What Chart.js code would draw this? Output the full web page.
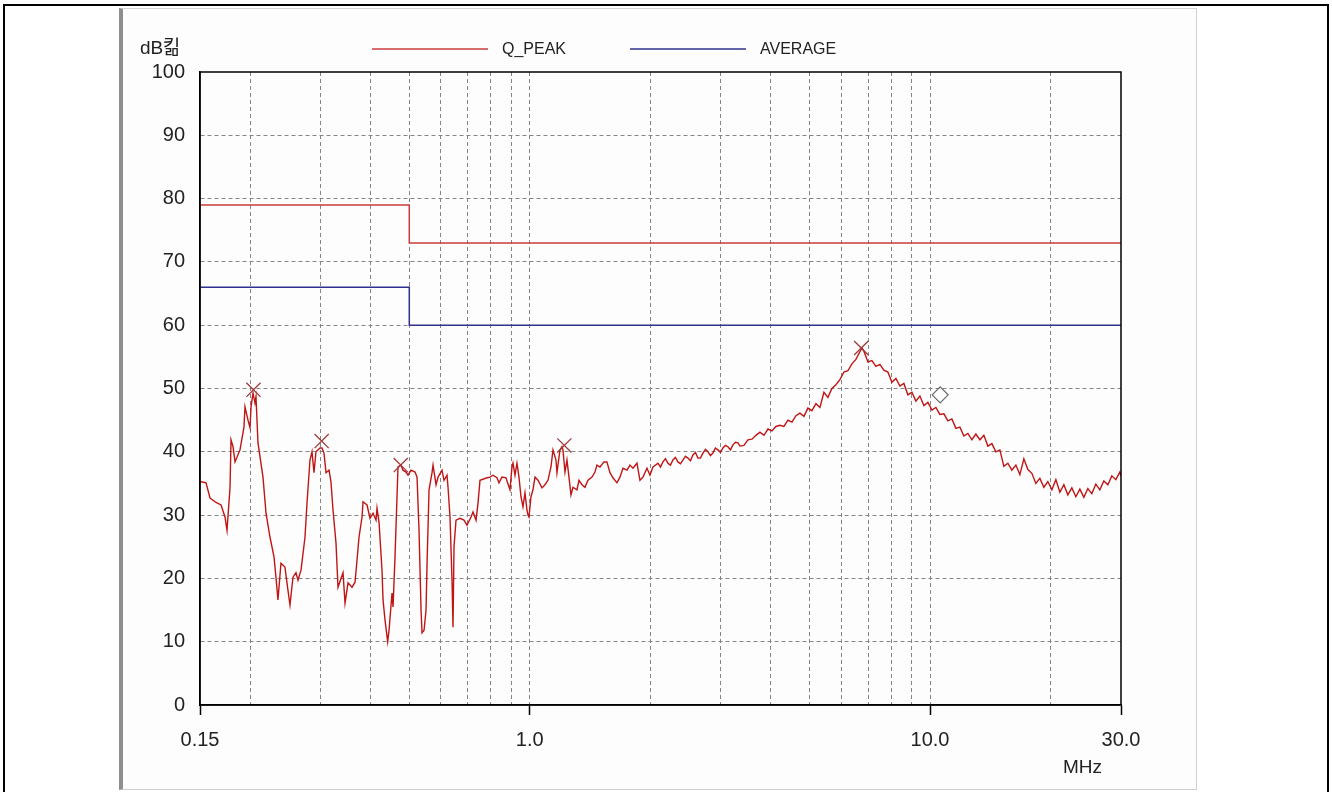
<!DOCTYPE html>
<html>
<head>
<meta charset="utf-8">
<script src="https://cdn.jsdelivr.net/npm/chart.js@4.4.1/dist/chart.umd.min.js"></script>
<style>
  html, body { margin: 0; padding: 0; background: #fff; }
  #page { position: relative; width: 1332px; height: 792px; overflow: hidden; }
  #frame { position: absolute; left: 3px; top: 4px; width: 1322px; height: 800px;
           border-top: 2px solid #000; border-left: 2px solid #000; border-right: 2px solid #000; }
  #panel { position: absolute; left: 119px; top: 8px; width: 1073px; height: 780px; background: #fdfdfd;
           border-left: 4px solid #8f8f8f; border-top: 1px solid #d4d4d4;
           border-right: 1px solid #cfcfcf; border-bottom: 1px solid #cfcfcf; }
  #chart { position: absolute; left: 0; top: 0; }
</style>
</head>
<body>
<div id="page">
  <div id="frame"></div>
  <div id="panel"></div>
  <canvas id="chart" width="1332" height="792"></canvas>
</div>
<script>
/* global Chart */

// ---- data (MHz / dB) ----
const traceFreq = [
  0.150, 0.1553, 0.1589, 0.1645, 0.1693, 0.1732, 0.1752, 0.1783, 0.1793, 0.1814,
  0.1835, 0.1888, 0.1932, 0.1943, 0.1977, 0.2000, 0.2012, 0.2035, 0.2058, 0.2070,
  0.2094, 0.2155, 0.2193, 0.2244, 0.2296, 0.2322, 0.2349, 0.2390, 0.2445, 0.2474,
  0.2517, 0.2561, 0.2605, 0.2636, 0.2682, 0.2744, 0.2776, 0.2824, 0.2857, 0.2890,
  0.2923, 0.2992, 0.3026, 0.3061, 0.3097, 0.3151, 0.3187, 0.3224, 0.3280, 0.3318,
  0.3376, 0.3415, 0.3455, 0.3515, 0.3597, 0.3659, 0.3702, 0.3744, 0.3810, 0.3832,
  0.3921, 0.3989, 0.4059, 0.4129, 0.4153, 0.4201, 0.4274, 0.4299, 0.4349, 0.4380,
  0.4415, 0.4450, 0.4527, 0.4554, 0.4606, 0.4659, 0.4686, 0.4768, 0.4823, 0.4907,
  0.4964, 0.5050, 0.5168, 0.5228, 0.5288, 0.5350, 0.5380, 0.5443, 0.5506, 0.5538,
  0.5602, 0.5699, 0.5732, 0.5832, 0.5900, 0.6036, 0.6105, 0.6212, 0.6248, 0.6320,
  0.6393, 0.6430, 0.6467, 0.6542, 0.6694, 0.6850, 0.6969, 0.7132, 0.7214, 0.7340,
  0.7425, 0.7510, 0.7819, 0.7955, 0.8092, 0.8280, 0.8376, 0.8522, 0.8720, 0.8923,
  0.9027, 0.9079, 0.9184, 0.9290, 0.9398, 0.9506, 0.9616, 0.9728, 0.9840, 0.9897,
  0.9954, 1.0069, 1.0186, 1.0304, 1.0483, 1.0728, 1.0913, 1.1103, 1.1297, 1.1428,
  1.1627, 1.1694, 1.1897, 1.2035, 1.2104, 1.2245, 1.2386, 1.2530, 1.2675, 1.2821,
  1.3120, 1.3272, 1.3503, 1.3738, 1.3977, 1.4303, 1.4552, 1.4720, 1.4975, 1.5321,
  1.5588, 1.5860, 1.6136, 1.6511, 1.6799, 1.7091, 1.7490, 1.7795, 1.8105, 1.8527,
  1.8849, 1.9178, 1.9625, 1.9967, 2.0315, 2.0904, 2.1207, 2.1513, 2.1825, 2.2140,
  2.2461, 2.2785, 2.3115, 2.3451, 2.3791, 2.4137, 2.4486, 2.4840, 2.5200, 2.5565,
  2.5935, 2.6310, 2.6691, 2.7078, 2.7470, 2.7869, 2.8273, 2.8679, 2.9094, 2.9519,
  2.9946, 3.0380, 3.0820, 3.1268, 3.1721, 3.2180, 3.2646, 3.3120, 3.3504, 3.4284,
  3.5081, 3.5897, 3.6733, 3.7588, 3.8463, 3.9358, 4.0274, 4.1211, 4.2170, 4.3151,
  4.4155, 4.5183, 4.6234, 4.7310, 4.8411, 4.9538, 5.0691, 5.1871, 5.3078, 5.4313,
  5.5577, 5.6870, 5.8193, 5.9547, 6.0933, 6.2351, 6.3802, 6.5287, 6.6806, 6.7593,
  6.8361, 6.9952, 7.1580, 7.3246, 7.4950, 7.6694, 7.8479, 8.0305, 8.2174, 8.4086,
  8.6043, 8.8045, 9.0094, 9.2191, 9.4336, 9.6531, 9.8778, 10.108, 10.343, 10.584,
  10.830, 11.082, 11.340, 11.604, 11.874, 12.150, 12.433, 12.722, 13.018, 13.321,
  13.631, 13.948, 14.273, 14.605, 14.945, 15.293, 15.649, 16.013, 16.386, 16.767,
  17.157, 17.556, 17.965, 18.383, 18.811, 19.248, 19.696, 20.155, 20.624, 21.104,
  21.595, 22.097, 22.612, 23.138, 23.676, 24.227, 24.791, 25.368, 25.958, 26.562,
  27.180, 27.813, 28.460, 29.122, 29.800, 30.0
];
const traceLevel = [
  35.3, 35.1, 32.7, 32.0, 31.6, 29.7, 27.6, 34.4, 41.9, 40.8,
  38.4, 40.3, 43.9, 47.1, 45.0, 43.8, 47.1, 49.3, 47.7, 48.7,
  41.4, 36.0, 30.3, 26.5, 23.4, 20.2, 16.6, 22.4, 21.8, 19.3,
  15.8, 20.2, 20.9, 19.7, 21.3, 26.5, 31.9, 38.7, 40.0, 36.7,
  40.0, 40.6, 40.6, 39.8, 36.7, 37.1, 35.2, 30.8, 25.6, 18.6,
  20.0, 20.9, 16.1, 19.3, 18.6, 19.4, 22.9, 26.5, 29.7, 32.1,
  31.6, 29.5, 30.3, 29.2, 31.1, 28.9, 21.3, 16.6, 13.4, 11.8,
  10.0, 11.8, 17.7, 15.5, 23.4, 32.9, 37.6, 37.9, 37.1, 36.8,
  36.3, 37.1, 36.8, 36.0, 27.6, 15.0, 11.4, 11.8, 15.0, 22.4,
  34.0, 36.7, 37.9, 34.8, 36.0, 37.1, 35.5, 36.3, 34.4, 29.7,
  19.7, 12.3, 25.0, 29.2, 29.5, 29.2, 28.4, 29.7, 30.5, 29.2,
  31.9, 35.5, 35.9, 36.0, 36.3, 35.9, 35.1, 36.0, 35.9, 34.0,
  37.6, 38.2, 36.3, 38.2, 36.0, 32.9, 31.3, 33.5, 30.8, 30.0,
  29.7, 32.9, 34.0, 36.0, 35.5, 34.3, 34.8, 35.5, 37.6, 40.3,
  38.7, 36.7, 40.3, 40.8, 40.3, 36.8, 38.7, 36.0, 33.2, 34.4,
  34.0, 35.5, 34.8, 34.4, 35.5, 36.0, 36.8, 37.9, 37.6, 38.4,
  38.4, 36.7, 35.9, 35.1, 36.0, 37.4, 37.1, 37.9, 37.4, 38.2,
  35.5, 36.0, 37.4, 36.3, 37.6, 38.2, 37.6, 38.4, 38.9, 38.2,
  37.9, 38.7, 39.1, 38.4, 38.1, 38.7, 39.3, 39.0, 38.6, 39.5,
  39.9, 39.0, 39.0, 39.8, 40.4, 40.0, 39.4, 39.8, 40.6, 40.3,
  39.9, 40.6, 41.0, 40.8, 40.3, 41.1, 41.5, 41.4, 40.9, 41.0,
  41.9, 42.0, 42.6, 43.1, 42.6, 43.6, 43.3, 44.0, 44.2, 44.0,
  45.0, 44.7, 45.7, 46.1, 45.6, 46.9, 46.5, 47.6, 47.0, 49.4,
  48.6, 50.0, 50.6, 51.4, 52.6, 52.8, 53.9, 54.6, 55.8, 56.4,
  55.9, 54.2, 54.4, 53.5, 53.8, 52.9, 52.6, 51.0, 51.6, 50.4,
  50.8, 49.0, 49.4, 48.0, 48.8, 47.3, 47.8, 46.6, 47.0, 45.9,
  46.0, 44.9, 45.2, 43.7, 43.9, 42.5, 42.9, 41.9, 42.8, 41.9,
  42.6, 40.9, 41.3, 40.0, 40.3, 37.7, 38.2, 37.1, 37.9, 36.4,
  38.9, 37.2, 36.6, 35.0, 35.8, 34.4, 35.3, 34.0, 35.6, 33.6,
  34.8, 33.2, 34.3, 32.9, 34.1, 32.8, 34.2, 33.4, 34.9, 34.0,
  35.4, 34.8, 36.2, 35.6, 36.8, 36.2
];

// limit lines (step at 0.5 MHz)
const limitFreq = [0.15, 0.5, 0.5, 30];
const qpLimit = [79, 79, 73, 73];
const avLimit = [66, 66, 60, 60];

// peak markers (x) and the single diamond marker
const peakFreq = [0.204, 0.302, 0.476, 1.22, 6.73];
const peakLevel = [49.8, 41.7, 37.9, 41.0, 56.4];
const diamondFreq = [10.6];
const diamondLevel = [49.0];

// axis ticks
const xGridTicks = [0.15, 0.2, 0.3, 0.4, 0.5, 0.6, 0.7, 0.8, 0.9, 1, 2, 3, 4, 5, 6, 7, 8, 9, 10, 20, 30];
const xLabelTicks = [0.15, 1, 10, 30];
const xTickLabels = ['0.15', '1.0', '10.0', '30.0'];
const yUnit = 'dB킮';
const xUnit = 'MHz';

const pts = (xs, ys) => xs.map((x, i) => ({ x, y: ys[i] }));

const FONT = '"Liberation Sans", Arial, "Noto Sans CJK KR", sans-serif';
const GRID = '#858585';

/* Plot frame, limit-line legend and unit captions */
const chartDecor = {
  id: 'chartDecor',
  afterDraw(chart) {
    const { ctx, chartArea: a } = chart;
    ctx.save();
    ctx.strokeStyle = '#000';
    ctx.lineWidth = 1.5;
    ctx.strokeRect(a.left, a.top, a.right - a.left, a.bottom - a.top);

    // legend: only the datasets flagged for it
    const items = chart.data.datasets.filter(d => d.inLegend);
    const y = a.top - 23;
    let x = a.left + 172;
    ctx.font = '16px ' + FONT;
    ctx.textBaseline = 'middle';
    items.forEach(d => {
      ctx.strokeStyle = d.borderColor;
      ctx.lineWidth = 1.5;
      ctx.beginPath();
      ctx.moveTo(x, y);
      ctx.lineTo(x + 116, y);
      ctx.stroke();
      ctx.fillStyle = '#222';
      ctx.fillText(d.label, x + 130, y + 1);
      x += 258;
    });

    ctx.font = '19px ' + FONT;
    ctx.fillStyle = '#222';
    ctx.fillText(yUnit, a.left - 60, a.top - 23);
    ctx.fillText(xUnit, a.right - 58, a.bottom + 63);
    ctx.restore();
  }
};

new Chart(document.getElementById('chart'), {
  type: 'scatter',
  data: {
    datasets: [
      {
        label: 'peaks', data: pts(peakFreq, peakLevel),
        pointStyle: 'crossRot', pointRadius: 10, pointBorderWidth: 1.3,
        borderColor: '#a03a3a', backgroundColor: '#a03a3a', showLine: false
      },
      {
        label: 'marker', data: pts(diamondFreq, diamondLevel),
        pointStyle: 'rectRot', pointRadius: 8, pointBorderWidth: 1.2,
        borderColor: '#6a6a6a', backgroundColor: 'rgba(255,255,255,0)', showLine: false
      },
      {
        label: 'trace', data: pts(traceFreq, traceLevel),
        showLine: true, borderColor: '#c01515', borderWidth: 1.4, pointRadius: 0, tension: 0
      },
      {
        label: 'Q_PEAK', inLegend: true, data: pts(limitFreq, qpLimit),
        showLine: true, borderColor: '#c83c3c', borderWidth: 1.5, pointRadius: 0
      },
      {
        label: 'AVERAGE', inLegend: true, data: pts(limitFreq, avLimit),
        showLine: true, borderColor: '#30308f', borderWidth: 1.5, pointRadius: 0
      }
    ]
  },
  options: {
    responsive: false,
    animation: false,
    layout: { padding: { top: 72, right: 211, bottom: 0, left: 0 } },
    plugins: { legend: { display: false }, tooltip: { enabled: false } },
    scales: {
      x: {
        type: 'logarithmic',
        min: 0.15,
        max: 30,
        afterBuildTicks: scale => { scale.ticks = xGridTicks.map(v => ({ value: v })); },
        afterFit: scale => { scale.height = 87; },
        ticks: {
          autoSkip: false, maxRotation: 0, padding: 13,
          color: '#222', font: { family: FONT, size: 20 },
          callback: v => {
            const i = xLabelTicks.indexOf(v);
            return i >= 0 ? xTickLabels[i] : '';
          }
        },
        grid: {
          color: c => (c.tick && (c.tick.value === 0.15 || c.tick.value === 30)) ? 'rgba(0,0,0,0)' : GRID,
          tickColor: c => (c.tick && xLabelTicks.includes(c.tick.value)) ? '#000' : 'rgba(0,0,0,0)',
          tickLength: 10, tickWidth: 1.5, lineWidth: 1
        },
        border: { color: '#000', width: 1.5, dash: [4, 3] }
      },
      y: {
        min: 0,
        max: 100,
        afterFit: scale => { scale.width = 200; },
        ticks: { stepSize: 10, padding: 15, color: '#222', font: { family: FONT, size: 20 } },
        grid: {
          drawTicks: false,
          color: c => (c.tick && (c.tick.value === 0 || c.tick.value === 100)) ? 'rgba(0,0,0,0)' : GRID
        },
        border: { color: '#000', width: 1.5, dash: [4, 3] }
      }
    }
  },
  plugins: [chartDecor]
});
</script>
</body>
</html>
